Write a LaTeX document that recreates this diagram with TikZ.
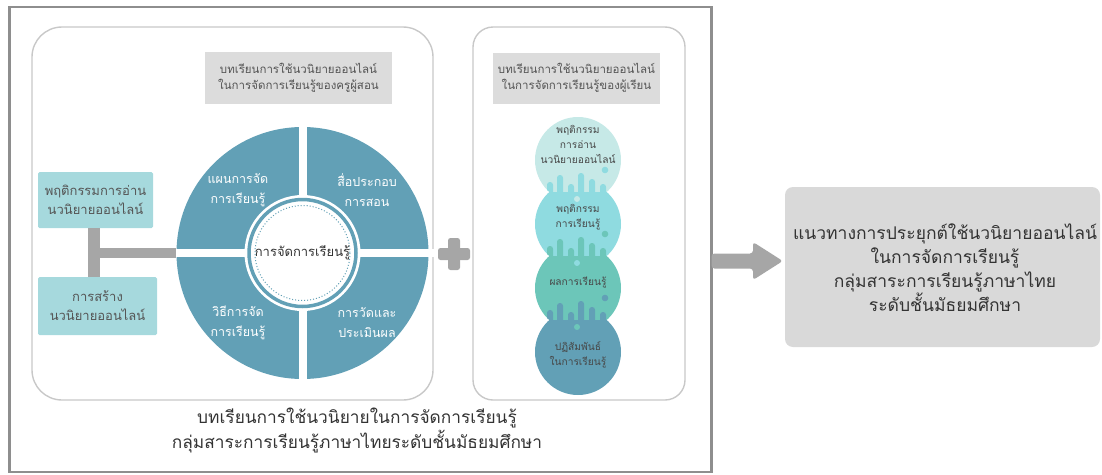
\documentclass[tikz,border=0pt]{standalone}
\usepackage{fontspec}
\setmainfont{Loma}[Script=Thai]
\usetikzlibrary{calc}
\definecolor{cTeal}{HTML}{62A0B6}
\definecolor{cLBox}{HTML}{A6D9DD}
\definecolor{cGBox}{HTML}{DCDCDC}
\definecolor{cOut}{HTML}{D9D9D9}
\definecolor{cBar}{HTML}{A6A6A6}
\definecolor{cFrame}{HTML}{8E8E8E}
\definecolor{cPanel}{HTML}{C8C8C8}
\definecolor{cA}{HTML}{C6E9E7}
\definecolor{cB}{HTML}{8FDBE0}
\definecolor{cC}{HTML}{6CC6B9}
\definecolor{cD}{HTML}{62A0B6}
\definecolor{cTxt}{HTML}{555555}
\definecolor{cDark}{HTML}{333333}
\begin{document}
\begin{tikzpicture}[x=1pt,y=-1pt,
  hdr/.style={fill=cGBox, text=cTxt, align=center, inner sep=0pt, font=\fontsize{11.5}{16}\selectfont},
  lbox/.style={fill=cLBox, rounded corners=1.5pt, text=cTxt, align=center, inner sep=0pt, font=\fontsize{13}{19}\selectfont},
  quad/.style={text=white, align=center, font=\fontsize{12.5}{20}\selectfont},
  ctext/.style={text=cDark!90, align=center, font=\fontsize{10.2}{15}\selectfont},
  panel/.style={draw=cPanel, line width=1.4pt},
  bar/.style={draw=cBar, line width=11pt},
  big/.style={text=cDark, align=center, font=\fontsize{17.5}{24}\selectfont}]
\useasboundingbox (0,0) rectangle (1102,474);
% outer frame and panels
\draw[draw=cFrame, line width=2.5pt] (9.5,7) rectangle (711.5,472);
\coordinate (frameE) at (711.5,261);
\draw[panel, rounded corners=30pt] (32,27) rectangle (433,400);
\draw[panel, rounded corners=20pt] (473,27) rectangle (685,400);
% headers
\node[hdr, minimum width=187, minimum height=52] (hl) at (298.5,78) {บทเรียนการใช้นวนิยายออนไลน์\\ในการจัดการเรียนรู้ของครูผู้สอน};
\node[hdr, minimum width=167, minimum height=51] (hr) at (576.5,78) {บทเรียนการใช้นวนิยายออนไลน์\\ในการจัดการเรียนรู้ของผู้เรียน};
% wheel
\node[circle, fill=cTeal, minimum size=252, inner sep=0pt] (wheel) at (302.5,253) {};
\fill[white] (298.5,120) rectangle (306.5,386);
\fill[white] (170,249) rectangle (435,257);
\fill[white] (wheel.center) circle (58);
\draw[cTeal, line width=3.5pt] (wheel.center) circle (53.5);
\draw[cTeal, line width=1pt, dotted] (wheel.center) circle (47.5);
\node[ctext, text=cDark, font=\fontsize{13}{15}\selectfont] (core) at (wheel.center) {การจัดการเรียนรู้};
\node[quad] (q1) at (238,190) {แผนการจัด\\การเรียนรู้};
\node[quad] (q2) at (367,190) {สื่อประกอบ\\การสอน};
\node[quad] (q3) at (238,323) {วิธีการจัด\\การเรียนรู้};
\node[quad] (q4) at (367,323) {การวัดและ\\ประเมินผล};
% left boxes and T connector
\node[lbox, minimum width=115, minimum height=56] (la) at (95.5,200) {พฤติกรรมการอ่าน\\นวนิยายออนไลน์};
\node[lbox, minimum width=119, minimum height=58] (lb) at (97.5,306) {การสร้าง\\นวนิยายออนไลน์};
\coordinate (jn) at (94,253);
\draw[bar, line width=12pt] (la.south -| jn) -- (lb.north -| jn);
\draw[bar, line width=10pt] (jn) -- (wheel.west);
% plus
\coordinate (plus) at (454,254);
\fill[cBar, rounded corners=2.5pt] ($(plus)+(-6,-16)$) rectangle ($(plus)+(6,16)$);
\fill[cBar, rounded corners=2.5pt] ($(plus)+(-16,-6)$) rectangle ($(plus)+(16,6)$);
% stacked circles
\def\R{43}
\coordinate (c1) at (578,160);
\coordinate (c2) at (578,224);
\coordinate (c3) at (578,288);
\coordinate (c4) at (578,352);
\fill[cA] (c1) circle (\R);
\foreach \up/\lo/\cu/\cl in {c1/c2/cA/cB, c2/c3/cB/cC, c3/c4/cC/cD}{
  \begin{scope}
    \clip ($(\lo)+(-60,-32)$) rectangle ($(\lo)+(60,60)$);
    \fill[\cl] (\lo) circle (\R);
  \end{scope}
  \begin{scope}
    \clip (\up) circle (\R);
    \foreach \dx/\h in {-28/10, -18/17, -7/8, 3/19, 14/13, 25/8}{
      \fill[\cl, rounded corners=2.8pt] ($(\lo)+(\dx-3,-26)$) rectangle ($(\lo)+(\dx+3,-32-\h)$);
    }
    \fill[\cl] ($(\lo)+(27,-54)$) circle (3.3);
  \end{scope}
  \fill[\cu] ($(\lo)+(-1,-25)$) circle (3);
}
\node[ctext] (k1) at (578,144) {พฤติกรรม\\การอ่าน\\นวนิยายออนไลน์};
\node[ctext] (k2) at (578,217) {พฤติกรรม\\การเรียนรู้};
\node[ctext] (k3) at (578,283) {ผลการเรียนรู้};
\node[ctext] (k4) at (578,355) {ปฏิสัมพันธ์\\ในการเรียนรู้};
% bottom caption
\node[big, font=\fontsize{17.3}{25}\selectfont] (cap) at (357,430) {บทเรียนการใช้นวนิยายในการจัดการเรียนรู้\\กลุ่มสาระการเรียนรู้ภาษาไทยระดับชั้นมัธยมศึกษา};
% output box and arrow
\node[fill=cOut, rounded corners=8pt, minimum width=315, minimum height=160, inner sep=0pt] (out) at (942.5,267) {};
\node[big] (outt) at (945,268) {แนวทางการประยุกต์ใช้นวนิยายออนไลน์\\ในการจัดการเรียนรู้\\กลุ่มสาระการเรียนรู้ภาษาไทย\\ระดับชั้นมัธยมศึกษา};
\fill[cBar, rounded corners=3pt] (frameE |- 0,253.5) -- (753,253.5) -- (753,242) -- ($(out.west |- 0,261)+(-2,0)$) -- (753,280) -- (753,268.5) -- (frameE |- 0,268.5) -- cycle;
\end{tikzpicture}
\end{document}
